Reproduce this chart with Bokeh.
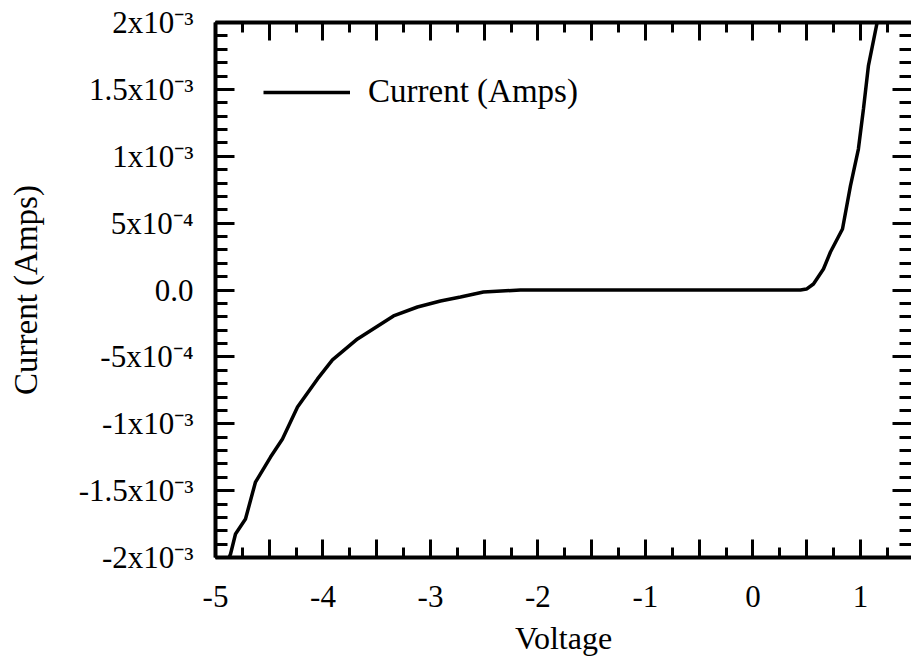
from bokeh.plotting import figure
from bokeh.models import FixedTicker, LinearAxis, Range1d, CustomJSTickFormatter
from bokeh.embed import file_html
from bokeh.resources import INLINE

# ---- data ----
voltage = [-4.900, -4.860, -4.814, -4.721, -4.628, -4.488, -4.377, -4.237, -4.051,
           -3.912, -3.679, -3.344, -3.121, -2.907, -2.721, -2.507, -2.163,
           -1.500, -1.000, -0.500, 0.000, 0.442, 0.498, 0.563, 0.656, 0.721,
           0.833, 0.907, 0.981, 1.028, 1.074, 1.158]
current = [-2.05e-3, -1.974e-3, -1.824e-3, -1.712e-3, -1.436e-3, -1.249e-3, -1.114e-3,
           -0.875e-3, -0.665e-3, -0.523e-3, -0.366e-3, -0.194e-3, -0.127e-3, -0.082e-3,
           -0.052e-3, -0.015e-3, 0.0, 0.0, 0.0, 0.0, 0.0, 0.0, 0.007e-3, 0.045e-3,
           0.157e-3, 0.284e-3, 0.456e-3, 0.778e-3, 1.054e-3, 1.353e-3, 1.675e-3, 2.011e-3]

x_major = [-5.0, -4.5, -4.0, -3.5, -3.0, -2.5, -2.0, -1.5, -1.0, -0.5, 0.0, 0.5, 1.0, 1.5]
x_labels = ["-5", "", "-4", "", "-3", "", "-2", "", "-1", "", "0", "", "1", ""]
x_minor = [-4.75, -4.25, -3.75, -3.25, -2.75, -2.25, -1.75, -1.25, -0.75, -0.25,
           0.25, 0.75, 1.25]

y_major = [-2e-3, -1.5e-3, -1e-3, -5e-4, 0.0, 5e-4, 1e-3, 1.5e-3, 2e-3]
y_labels = ["-2x10\u207b\u00b3", "-1.5x10\u207b\u00b3", "-1x10\u207b\u00b3", "-5x10\u207b\u2074",
            "0.0", "5x10\u207b\u2074", "1x10\u207b\u00b3", "1.5x10\u207b\u00b3", "2x10\u207b\u00b3"]
y_minor = [round(-2e-3 + i * 1e-4, 7) for i in range(41)]

series_name = "Current (Amps)"
x_title = "Voltage"
y_title = "Current (Amps)"

FONT = "Liberation Serif"

p = figure(frame_width=696, frame_height=535,
           x_range=Range1d(-5, 1.475), y_range=Range1d(-2e-3, 2e-3),
           output_backend="svg", toolbar_location=None,
           min_border_left=215, min_border_top=22, min_border_right=0,
           min_border_bottom=95, x_axis_label=x_title, y_axis_label=y_title)
p.outline_line_color = None
p.xgrid.visible = False
p.ygrid.visible = False
p.background_fill_color = "white"
p.border_fill_color = "white"

p.line(voltage, current, line_color="black", line_width=3.5, legend_label=series_name)

bottom = p.below[0]
left = p.left[0]

xt = FixedTicker(ticks=x_major, minor_ticks=x_minor)
yt = FixedTicker(ticks=y_major, minor_ticks=y_minor)

blank = CustomJSTickFormatter(code="return ''")
top = LinearAxis(formatter=blank)
right = LinearAxis(formatter=blank)
p.add_layout(top, "above")
p.add_layout(right, "right")

for ax in [bottom, top]:
    ax.ticker = xt
for ax in [left, right]:
    ax.ticker = yt

bottom.major_label_overrides = {v: t for v, t in zip(x_major, x_labels)}
left.major_label_overrides = {v: t for v, t in zip(y_major, y_labels)}

for ax in [bottom, top, left, right]:
    ax.axis_line_color = "black"
    ax.axis_line_width = 4
    ax.major_tick_line_color = "black"
    ax.minor_tick_line_color = "black"
    ax.major_tick_line_width = 3
    ax.minor_tick_line_width = 3
    ax.major_tick_out = 0
    ax.minor_tick_out = 0
    ax.major_label_text_font = FONT
    ax.major_label_text_color = "black"
    ax.axis_label_text_font = FONT
    ax.axis_label_text_font_style = "normal"
    ax.axis_label_text_color = "black"

for ax in [bottom, top]:
    ax.major_tick_in = 18
    ax.minor_tick_in = 10
for ax in [left, right]:
    ax.major_tick_in = 19
    ax.minor_tick_in = 12

for ax in [top, right]:
    ax.major_label_standoff = 0
right.axis_line_color = None

bottom.major_label_text_font_size = "31px"
bottom.major_label_standoff = 28
bottom.axis_label_text_font_size = "32px"
bottom.axis_label_standoff = 10

left.major_label_text_font_size = "31px"
left.major_label_standoff = 22
left.axis_label_text_font_size = "33px"
left.axis_label_standoff = 32

leg = p.legend[0]
leg.location = (48, 447)
leg.border_line_color = None
leg.background_fill_alpha = 0
leg.label_text_font = FONT
leg.label_text_font_size = "33px"
leg.label_text_color = "black"
leg.glyph_width = 87
leg.label_standoff = 18
leg.padding = 10
leg.margin = 0

open("out.html", "w").write(file_html(p, INLINE))
